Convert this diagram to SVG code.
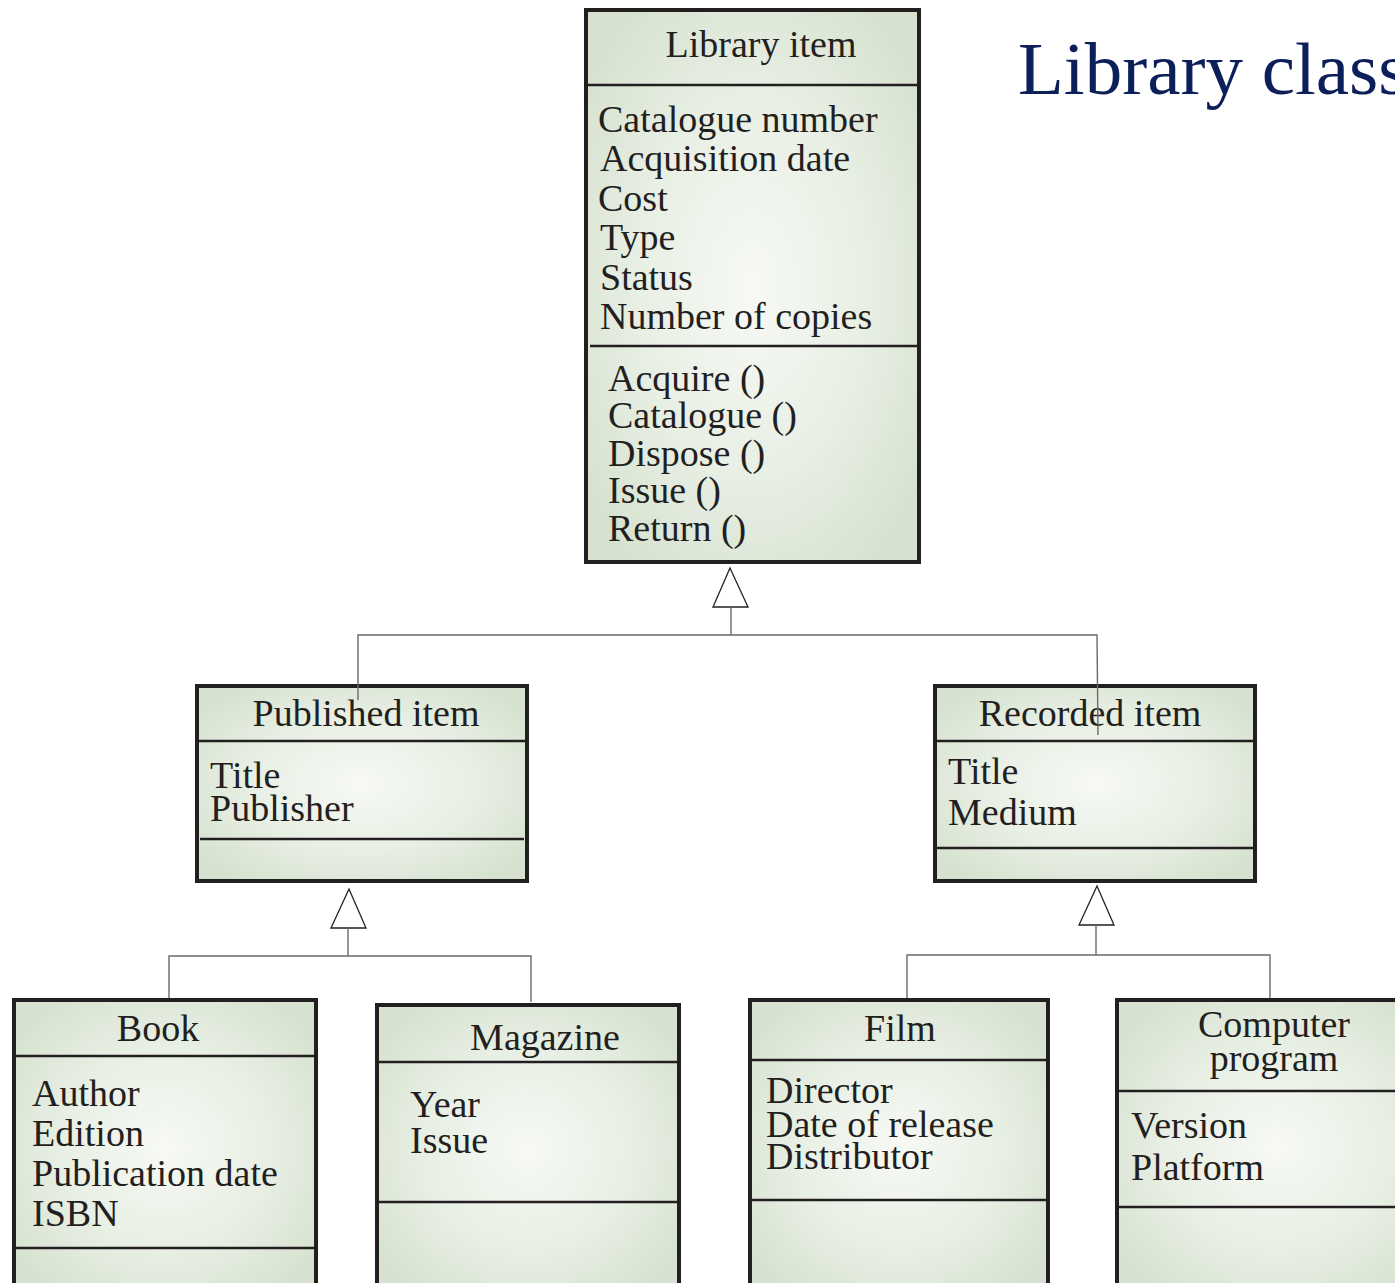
<svg xmlns="http://www.w3.org/2000/svg" width="1395" height="1283" viewBox="0 0 1395 1283">
<defs>
<radialGradient id="g" cx="0.5" cy="0.5" r="0.62">
<stop offset="0" stop-color="#f7f9f5"/>
<stop offset="0.55" stop-color="#e8efe4"/>
<stop offset="1" stop-color="#d6e2cf"/>
</radialGradient>
<style>
.box{fill:url(#g);stroke:#231f20;stroke-width:4}
.div{stroke:#231f20;stroke-width:2.5;fill:none}
.t{font-family:"Liberation Serif","Times New Roman",serif;font-size:38px;fill:#231f20}
.h{text-anchor:middle}
.c{stroke:#6a6a6a;stroke-width:1.4;fill:none}
.tri{fill:#ffffff;stroke:#231f20;stroke-width:1.3}
.title{font-family:"Liberation Serif","Times New Roman",serif;font-size:75px;fill:#0c1f5a}
</style>
</defs>
<rect width="1395" height="1283" fill="#ffffff"/>
<text class="title" x="1018" y="94">Library class</text>

<g id="library-item">
<rect class="box" x="586" y="10" width="333" height="552"/>
<line class="div" x1="586" y1="85" x2="919" y2="85"/>
<line class="div" x1="590" y1="346" x2="918" y2="346"/>
<text class="t h" x="761" y="57">Library item</text>
<text class="t" x="598" y="132">Catalogue number</text>
<text class="t" x="600" y="171">Acquisition date</text>
<text class="t" x="598" y="211">Cost</text>
<text class="t" x="600" y="250">Type</text>
<text class="t" x="600" y="290">Status</text>
<text class="t" x="600" y="329">Number of copies</text>
<text class="t" x="608" y="391">Acquire ()</text>
<text class="t" x="608" y="428">Catalogue ()</text>
<text class="t" x="608" y="466">Dispose ()</text>
<text class="t" x="608" y="503">Issue ()</text>
<text class="t" x="608" y="541">Return ()</text>
</g>

<g id="published-item">
<rect class="box" x="197" y="686" width="330" height="195"/>
<line class="div" x1="197" y1="741" x2="527" y2="741"/>
<line class="div" x1="200" y1="839" x2="524" y2="839"/>
<text class="t h" x="366" y="726">Published item</text>
<text class="t" x="210" y="788">Title</text>
<text class="t" x="210" y="821">Publisher</text>
</g>

<g id="recorded-item">
<rect class="box" x="935" y="686" width="320" height="195"/>
<line class="div" x1="935" y1="741" x2="1255" y2="741"/>
<line class="div" x1="935" y1="848" x2="1255" y2="848"/>
<text class="t h" x="1090" y="726">Recorded item</text>
<text class="t" x="948" y="784">Title</text>
<text class="t" x="948" y="825">Medium</text>
</g>

<g id="book">
<rect class="box" x="14" y="1000" width="302" height="295"/>
<line class="div" x1="14" y1="1056" x2="316" y2="1056"/>
<line class="div" x1="14" y1="1248" x2="316" y2="1248"/>
<text class="t h" x="158" y="1041">Book</text>
<text class="t" x="32" y="1106">Author</text>
<text class="t" x="32" y="1146">Edition</text>
<text class="t" x="32" y="1186">Publication date</text>
<text class="t" x="32" y="1226">ISBN</text>
</g>

<g id="magazine">
<rect class="box" x="377" y="1005" width="302" height="290"/>
<line class="div" x1="377" y1="1062" x2="679" y2="1062"/>
<line class="div" x1="377" y1="1202" x2="679" y2="1202"/>
<text class="t h" x="545" y="1050">Magazine</text>
<text class="t" x="410" y="1117">Year</text>
<text class="t" x="410" y="1153">Issue</text>
</g>

<g id="film">
<rect class="box" x="750" y="1000" width="298" height="295"/>
<line class="div" x1="750" y1="1060" x2="1048" y2="1060"/>
<line class="div" x1="750" y1="1200" x2="1048" y2="1200"/>
<text class="t h" x="900" y="1041">Film</text>
<text class="t" x="766" y="1103">Director</text>
<text class="t" x="766" y="1137">Date of release</text>
<text class="t" x="766" y="1169">Distributor</text>
</g>

<g id="computer-program">
<rect class="box" x="1117" y="1000" width="320" height="295"/>
<line class="div" x1="1117" y1="1091" x2="1437" y2="1091"/>
<line class="div" x1="1117" y1="1207" x2="1437" y2="1207"/>
<text class="t h" x="1274" y="1037">Computer</text>
<text class="t h" x="1274" y="1071">program</text>
<text class="t" x="1131" y="1138">Version</text>
<text class="t" x="1131" y="1180">Platform</text>
</g>

<g id="connectors">
<polygon class="tri" points="730,568 713,607 748,607"/>
<polyline class="c" points="731,607 731,635"/>
<polyline class="c" points="358,700 358,635 1097,635 1098,735"/>
<polygon class="tri" points="349,889 331,928 366,928"/>
<polyline class="c" points="348,928 348,956"/>
<polyline class="c" points="169,998 169,956 531,956 531,1002"/>
<polygon class="tri" points="1097,886 1079,925 1114,925"/>
<polyline class="c" points="1096,925 1096,955"/>
<polyline class="c" points="907,998 907,955 1270,955 1270,998"/>
</g>
</svg>
